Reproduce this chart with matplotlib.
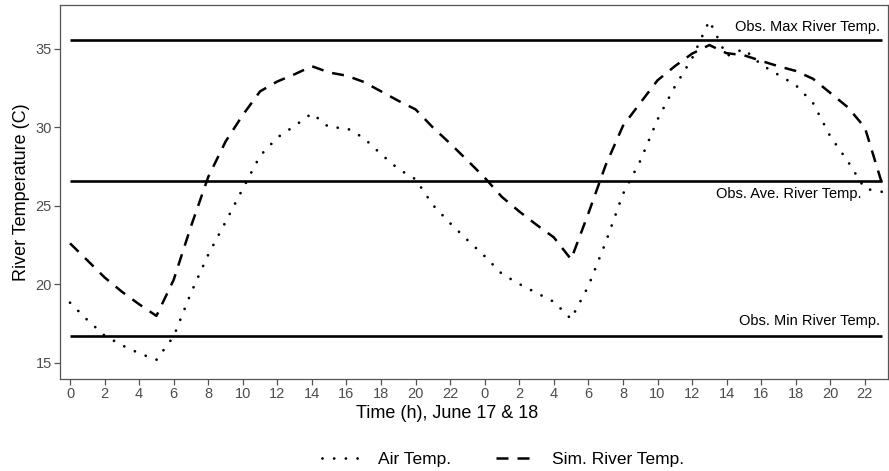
import matplotlib
matplotlib.use("Agg")
import matplotlib.pyplot as plt

plt.rcParams.update({
    'font.family': ['Liberation Sans', 'DejaVu Sans'],
    'font.size': 10,
})

# hourly values, June 17 (0-23) and June 18 (24-47)
hours = list(range(48))
air_temp = [18.84, 17.74, 16.75, 16.13, 15.62, 15.2, 16.7, 19.46, 21.9, 23.98,
            26.1, 28.2, 29.36, 30.1, 30.9, 30.0, 29.97, 29.33, 28.3, 27.36,
            26.7, 25.06, 23.9, 22.83, 21.8, 20.67, 20.03, 19.46, 18.9, 17.8,
            19.9, 22.68, 25.76, 27.87, 30.5, 32.6, 34.4, 36.8, 34.55, 35.0,
            34.0, 33.35, 32.7, 31.56, 29.43, 27.87, 26.1, 25.9]
sim_river = [22.62, 21.54, 20.45, 19.54, 18.74, 18.0, 20.3, 23.7, 26.85, 29.1,
             30.8, 32.3, 32.93, 33.39, 33.9, 33.5, 33.3, 32.9, 32.3, 31.7,
             31.15, 30.0, 28.98, 27.9, 26.8, 25.57, 24.65, 23.8, 23.0, 21.6,
             24.53, 27.6, 30.1, 31.56, 33.0, 33.9, 34.7, 35.25, 34.73, 34.6,
             34.24, 33.9, 33.6, 33.1, 32.2, 31.3, 30.0, 26.4]

obs_max = 35.57
obs_ave = 26.61
obs_min = 16.72

x_ticks = list(range(0, 48, 2))
x_labels = [str(h % 24) for h in x_ticks]
y_ticks = [15, 20, 25, 30, 35]

fig = plt.figure(figsize=(8.89, 4.71), dpi=100)
ax = fig.add_axes([60 / 889, 1 - 379 / 471, 828 / 889, 374 / 471])

ax.hlines([obs_max, obs_ave, obs_min], 0, 47, colors='black', linewidth=1.9)

ax.plot(hours, air_temp, color='black', linewidth=2.0,
        linestyle=(0, (0.01, 4.2)), dash_capstyle='round', label='Air Temp.')
ax.plot(hours, sim_river, color='black', linewidth=1.8,
        linestyle=(0, (4.8, 3.6)), dash_capstyle='butt', label='Sim. River Temp.')

ax.text(46.9, 36.4, 'Obs. Max River Temp.', ha='right', va='center', fontsize=10.5)
ax.text(45.8, 25.75, 'Obs. Ave. River Temp.', ha='right', va='center', fontsize=10.5)
ax.text(46.9, 17.7, 'Obs. Min River Temp.', ha='right', va='center', fontsize=10.5)

ax.set_xlim(-0.58, 47.34)
ax.set_ylim(13.98, 37.8)
ax.set_xticks(x_ticks)
ax.set_xticklabels(x_labels)
ax.set_yticks(y_ticks)

for s in ax.spines.values():
    s.set_color('#555555')
    s.set_linewidth(0.9)
ax.tick_params(axis='both', direction='out', length=4, width=0.9,
               color='#555555', labelcolor='#4D4D4D', labelsize=10.5, pad=2)

fig.text(447 / 889, 1 - 414 / 471, 'Time (h), June 17 & 18',
         ha='center', va='center', fontsize=13)
fig.text(22 / 889, 1 - 192 / 471, 'River Temperature (C)',
         ha='center', va='center', rotation=90, fontsize=13)

fig.legend(loc='center', bbox_to_anchor=(503 / 889, 1 - 459 / 471),
           ncol=2, frameon=False, fontsize=12.5, handlelength=2.2,
           handletextpad=1.0, columnspacing=2.6)

fig.savefig('out.png', dpi=100)
